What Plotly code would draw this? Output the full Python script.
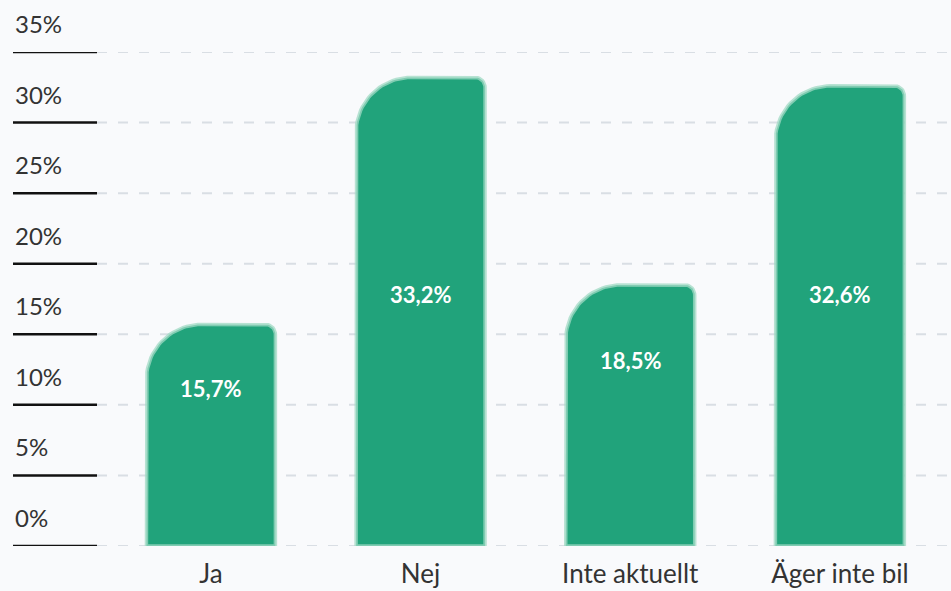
import numpy as np
import plotly.graph_objects as go

categories = ["Ja", "Nej", "Inte aktuellt", "Äger inte bil"]
values = [15.7, 33.2, 18.5, 32.6]
value_labels = ["15,7%", "33,2%", "18,5%", "32,6%"]
tick_values = [0, 5, 10, 15, 20, 25, 30, 35]
tick_labels = ["0%", "5%", "10%", "15%", "20%", "25%", "30%", "35%"]

W, H = 951, 591
ML, MR, MT, MB = 13, 0, 52, 45
XR = [-0.944, 3.530]
YR = [0, 35]
px_x = (W - ML - MR) / (XR[1] - XR[0])
px_y = (H - MT - MB) / (YR[1] - YR[0])

FILL = "#21a37b"
EDGE = "rgba(160,218,196,0.75)"
BG = "#f9fafc"
FONT = "Lato, 'Noto Sans', sans-serif"

bar_w = 0.615
r_big, r_small = 55, 10  # corner radii in px


def bar_outline(xc, v):
    xl, xr = xc - bar_w / 2, xc + bar_w / 2
    rbx, rby = r_big / px_x, r_big / px_y
    rsx, rsy = r_small / px_x, r_small / px_y
    t = np.linspace(np.pi, np.pi / 2, 24)
    ax = (xl + rbx) + rbx * np.cos(t)
    ay = (v - rby) + rby * np.sin(t)
    t2 = np.linspace(np.pi / 2, 0, 12)
    bx = (xr - rsx) + rsx * np.cos(t2)
    by = (v - rsy) + rsy * np.sin(t2)
    xs = np.concatenate([[xl], ax, bx, [xr, xl]])
    ys = np.concatenate([[0], ay, by, [0, 0]])
    return xs, ys


fig = go.Figure()
for i, v in enumerate(values):
    xs, ys = bar_outline(i, v)
    fig.add_trace(go.Scatter(x=xs, y=ys, mode="lines", fill="toself",
                             fillcolor=FILL, line=dict(color=EDGE, width=3.5),
                             hoverinfo="skip", showlegend=False, cliponaxis=False))

# value labels inside bars
for i, (v, lab) in enumerate(zip(values, value_labels)):
    fig.add_annotation(x=i, y=min(v * 0.71, 17.8), text=f"<b>{lab}</b>",
                       showarrow=False, font=dict(family=FONT, size=22, color="white"))

seg_end = (97 - ML) / (W - ML - MR)
for tv, tl in zip(tick_values, tick_labels):
    fig.add_annotation(x=0, xref="paper", xanchor="left", y=tv, yanchor="bottom",
                       yshift=12, text=tl, showarrow=False,
                       font=dict(family=FONT, size=24, color="#333333"))
    # dashed gridline (below bars)
    fig.add_shape(type="line", xref="paper", yref="y", x0=seg_end, x1=1,
                  y0=tv, y1=tv, layer="below",
                  line=dict(color="#d9dee4", width=2, dash="10px,11px"))
    # black tick segment
    fig.add_shape(type="line", xref="paper", yref="y", x0=0, x1=seg_end,
                  y0=tv, y1=tv, line=dict(color="#111111", width=2.5))

fig.update_layout(
    width=W, height=H,
    margin=dict(l=ML, r=MR, t=MT, b=MB),
    paper_bgcolor=BG, plot_bgcolor=BG,
    xaxis=dict(range=XR, tickvals=list(range(len(categories))), ticktext=categories,
               showgrid=False, zeroline=False, showline=False, ticks="",
               ticklabelstandoff=10,
               tickfont=dict(family=FONT, size=26, color="#333333"), fixedrange=True),
    yaxis=dict(range=YR, tickvals=tick_values, showticklabels=False,
               showgrid=False, zeroline=False, showline=False, fixedrange=True),
)

fig.write_html("out.html")
